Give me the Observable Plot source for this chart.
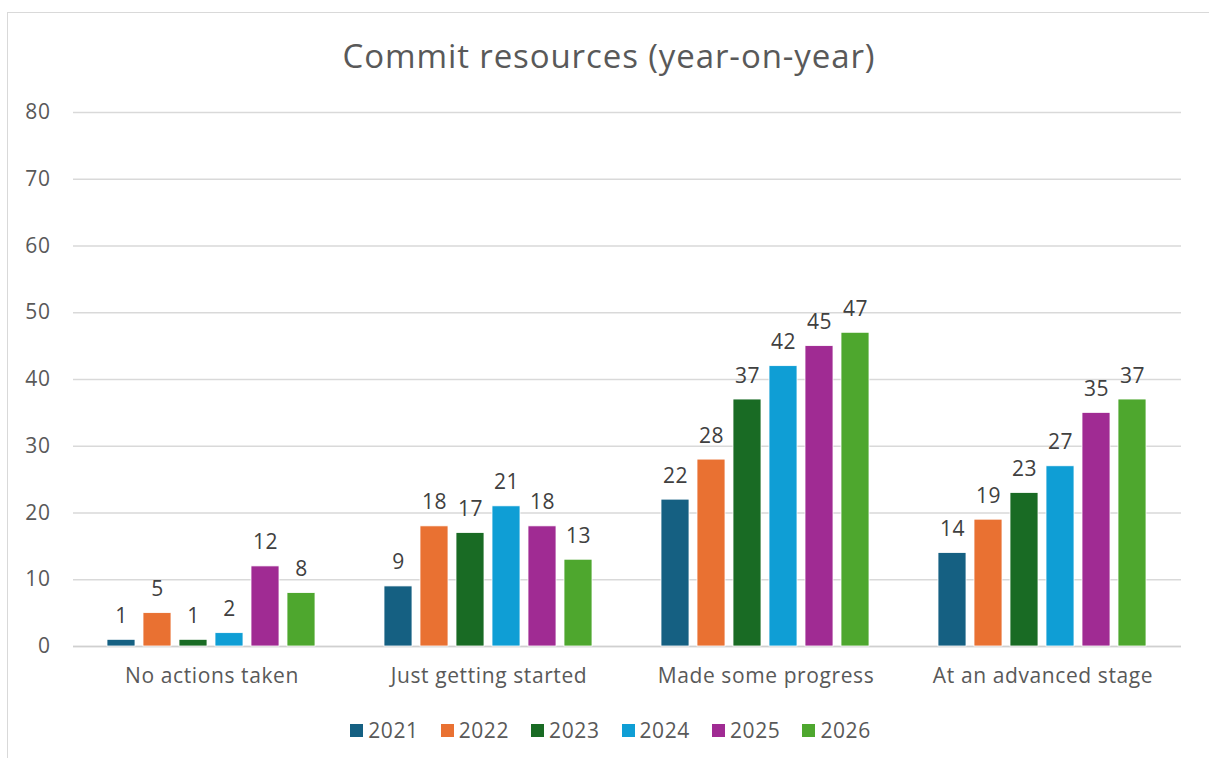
<!DOCTYPE html>
<html><head><meta charset="utf-8">
<script src="https://cdn.jsdelivr.net/npm/d3@7"></script>
<script src="https://cdn.jsdelivr.net/npm/@observablehq/plot@0.6"></script>
<style>
body{margin:0;background:#fff;font-family:"Open Sans",sans-serif;}
#wrap{position:relative;width:1209px;height:758px;overflow:hidden;background:#fff;}
#frame{position:absolute;left:7px;top:12px;width:1400px;height:900px;border:1.5px solid #d9d9d9;box-sizing:border-box;}
#title{position:absolute;left:0;width:1218px;top:39px;text-align:center;font-size:33px;line-height:33px;letter-spacing:0.9px;color:#595959;}
#chart{position:absolute;left:0;top:90px;}
#chart svg text{letter-spacing:0.6px;}
#legend{position:absolute;top:720px;left:6px;width:1209px;display:flex;justify-content:center;gap:22px;font-size:21px;line-height:21px;letter-spacing:0.6px;color:#595959;}
.item{display:flex;align-items:center;gap:5px;}
.sw{width:13px;height:13px;display:inline-block;}
</style></head>
<body>
<div id="wrap">
  <div id="frame"></div>
  <div id="title">Commit resources (year-on-year)</div>
  <div id="chart"></div>
  <div id="legend"></div>
</div>
<script>
const categories = ["No actions taken", "Just getting started", "Made some progress", "At an advanced stage"];
const years = ["2021", "2022", "2023", "2024", "2025", "2026"];
const colors = ["#156082", "#E97132", "#196B24", "#0F9ED5", "#A02B93", "#4EA72E"];
const v2021 = [1, 9, 22, 14];
const v2022 = [5, 18, 28, 19];
const v2023 = [1, 17, 37, 23];
const v2024 = [2, 21, 42, 27];
const v2025 = [12, 18, 45, 35];
const v2026 = [8, 13, 47, 37];
const yTicks = [0, 10, 20, 30, 40, 50, 60, 70, 80];

const series = [v2021, v2022, v2023, v2024, v2025, v2026];
const data = [];
categories.forEach((c, i) => {
  years.forEach((y, j) => data.push({cat: c, year: y, value: series[j][i]}));
});

const chart = Plot.plot({
  width: 1209,
  height: 610,
  marginLeft: 72,
  marginRight: 27,
  marginTop: 22,
  marginBottom: 54,
  style: {fontFamily: "'Open Sans', sans-serif", fontSize: "21px", color: "#595959", background: "transparent"},
  fx: {domain: categories, padding: 0, label: null, axis: "bottom", tickSize: 0, tickPadding: 22},
  x: {domain: years, paddingInner: 0.216, paddingOuter: 0.858, axis: null},
  y: {domain: [0, 80], ticks: yTicks, label: null, tickSize: 0, tickPadding: 23, tickFormat: d => String(d)},
  color: {domain: years, range: colors},
  marks: [
    Plot.gridY(yTicks, {stroke: "#d9d9d9", strokeOpacity: 1, strokeWidth: 1.3}),
    Plot.ruleY([0], {stroke: "#d0d0d0", strokeWidth: 1.6}),
    Plot.barY(data, {fx: "cat", x: "year", y: "value", fill: "year", stroke: "white", strokeWidth: 0.8}),
    Plot.text(data, {fx: "cat", x: "year", y: "value", text: d => String(d.value), dy: -17, lineAnchor: "bottom", fill: "#404040", fontSize: 21})
  ]
});
document.getElementById("chart").appendChild(chart);

const lg = document.getElementById("legend");
years.forEach((y, i) => {
  const it = document.createElement("div");
  it.className = "item";
  it.innerHTML = `<span class="sw" style="background:${colors[i]}"></span><span>${y}</span>`;
  lg.appendChild(it);
});
</script>
</body></html>
